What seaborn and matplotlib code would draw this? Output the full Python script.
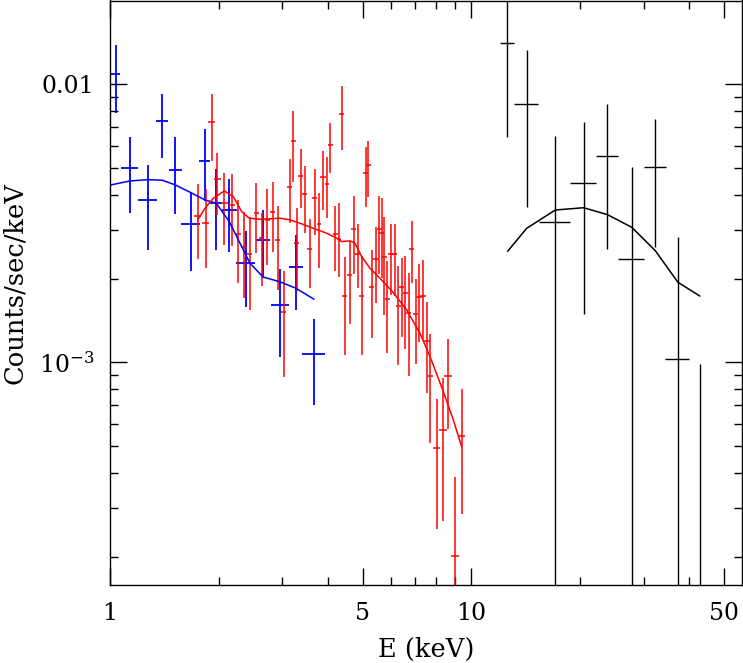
import numpy as np
import pandas as pd
import matplotlib
matplotlib.use("Agg")
import matplotlib.pyplot as plt
import seaborn as sns
from matplotlib.ticker import FixedLocator, FixedFormatter, NullFormatter

# ---------------- data (rates in units of 1e-3 counts/sec/keV) ----------------
blue_e = [1.037, 1.134, 1.271, 1.395, 1.516, 1.673, 1.828, 1.968, 2.138, 2.374, 2.651, 2.960, 3.271, 3.668]
blue_de = [0.030, 0.064, 0.075, 0.056, 0.063, 0.098, 0.062, 0.079, 0.102, 0.144, 0.123, 0.170, 0.142, 0.269]
blue_rate = [10.87, 4.985, 3.836, 7.361, 4.929, 3.144, 5.311, 3.750, 3.522, 2.276, 2.754, 1.607, 2.207, 1.069]
blue_lo = [7.86, 3.45, 2.535, 5.445, 3.423, 2.13, 3.815, 2.541, 2.487, 1.585, 2.005, 1.042, 1.542, 0.702]
blue_hi = [13.85, 6.45, 5.124, 9.228, 6.45, 4.11, 6.925, 4.968, 4.563, 2.967, 3.53, 2.16, 2.857, 1.428]

blue_model_e = [1.006, 1.136, 1.276, 1.395, 1.516, 1.673, 1.828, 1.968, 2.138, 2.44, 2.651, 2.96, 3.271, 3.668]
blue_model = [4.342, 4.488, 4.536, 4.514, 4.342, 4.074, 3.836, 3.732, 3.204, 2.27, 2.026, 1.944, 1.845, 1.685]

red_e = [1.748, 1.839, 1.915, 1.982, 2.072, 2.171, 2.261, 2.354, 2.440, 2.541, 2.628, 2.725, 2.819, 2.910,
         3.023, 3.148, 3.216, 3.285, 3.370, 3.464, 3.576, 3.692, 3.788, 3.886, 3.986, 4.072, 4.195, 4.303,
         4.375, 4.460, 4.605, 4.723, 4.845, 4.981, 5.098, 5.186, 5.297, 5.445, 5.562, 5.646, 5.742, 5.853,
         5.991, 6.146, 6.278, 6.427, 6.565, 6.706, 6.836, 7.013, 7.178, 7.333, 7.521, 7.699, 8.016, 8.346,
         8.635, 9.010, 9.399]
red_de = [0.039, 0.041, 0.043, 0.044, 0.046, 0.048, 0.036, 0.037, 0.039, 0.040, 0.042, 0.043, 0.045, 0.046,
          0.048, 0.050, 0.051, 0.052, 0.054, 0.055, 0.057, 0.059, 0.060, 0.062, 0.063, 0.065, 0.067, 0.068,
          0.070, 0.071, 0.073, 0.075, 0.077, 0.079, 0.081, 0.082, 0.084, 0.087, 0.088, 0.090, 0.091, 0.093,
          0.095, 0.098, 0.100, 0.102, 0.104, 0.107, 0.109, 0.112, 0.137, 0.140, 0.144, 0.147, 0.194, 0.202,
          0.209, 0.218, 0.227]
red_rate = [3.361, 3.179, 7.297, 4.552, 3.731, 3.690, 2.886, 2.605, 2.446, 3.453, 2.807, 3.250, 3.472, 2.746,
            1.513, 4.284, 6.252, 2.694, 4.691, 4.020, 2.562, 3.910, 3.135, 4.652, 4.367, 6.049, 2.886, 2.784,
            7.820, 1.727, 2.061, 3.017, 2.453, 1.727, 4.783, 5.111, 1.871, 2.353, 3.017, 2.926, 2.399, 1.694,
            2.453, 2.446, 1.599, 1.871, 1.770, 1.501, 2.549, 1.489, 1.718, 1.732, 1.189, 0.890, 0.493, 0.5706,
            0.893, 0.2015, 0.543]
red_lo = [2.353, 2.178, 5.313, 3.388, 2.642, 2.620, 1.923, 1.708, 1.542, 2.480, 1.881, 2.239, 2.500, 1.820,
          0.887, 3.179, 4.465, 1.805, 3.579, 2.910, 1.855, 2.870, 2.178, 3.530, 3.295, 4.809, 2.130, 2.021,
          5.803, 1.062, 1.369, 2.072, 1.846, 1.062, 3.629, 3.943, 1.219, 1.630, 2.072, 2.004, 1.479, 1.077,
          1.746, 1.732, 0.978, 1.236, 1.114, 0.893, 1.923, 0.983, 1.186, 1.202, 0.7735, 0.514, 0.2507, 0.2694,
          0.574, 0.12, 0.2838]
red_hi = [4.367, 4.190, 9.228, 5.676, 4.809, 4.743, 3.835, 3.482, 3.341, 4.428, 3.435, 4.202, 4.465, 3.649,
          2.130, 5.370, 8.017, 3.599, 5.836, 5.083, 3.268, 4.944, 4.076, 5.755, 5.461, 7.278, 3.649, 3.731,
          9.860, 2.386, 2.731, 3.964, 3.144, 2.412, 5.933, 6.270, 2.535, 3.075, 3.964, 3.889, 3.341, 2.314,
          3.144, 3.144, 2.220, 2.366, 2.419, 2.089, 3.232, 1.993, 2.251, 2.333, 1.653, 1.261, 0.7359, 0.876,
          1.209, 0.3878, 0.8017]

red_model_e = [1.748, 1.832, 1.932, 2.072, 2.194, 2.314, 2.429, 2.601, 2.954, 3.148, 3.356, 3.652, 3.977, 4.239,
               4.375, 4.615, 4.764, 4.970, 5.241, 5.586, 6.081, 6.622, 7.208, 7.683, 8.363, 8.913, 9.399]
red_model = [3.250, 3.579, 3.889, 4.132, 3.943, 3.482, 3.295, 3.268, 3.295, 3.250, 3.161, 3.033, 2.910, 2.792,
             2.716, 2.731, 2.680, 2.399, 2.178, 2.004, 1.780, 1.542, 1.271, 1.048, 0.7843, 0.6199, 0.4971]

black_e = [12.57, 14.22, 17.07, 20.45, 23.78, 27.77, 32.28, 37.29, 42.9]
black_de = [0.58, 1.09, 1.66, 1.69, 1.67, 2.25, 2.30, 2.85, 3.0]
black_rate = [14.05, 8.514, 3.196, 4.419, 5.532, 2.350, 5.044, 1.028, 0.01]
black_lo = [6.461, 3.628, 0.01, 1.485, 2.545, 0.01, 2.603, 0.01, 0.005]
black_hi = [30.0, 13.3, 6.521, 7.337, 8.487, 5.031, 7.477, 2.816, 0.989]

black_model_e = [12.60, 14.22, 17.07, 20.45, 23.78, 27.77, 32.28, 37.29, 42.9]
black_model = [2.505, 3.030, 3.527, 3.595, 3.396, 3.059, 2.520, 1.939, 1.729]

UNIT = 1e-3

# ---------------- style ----------------
sns.set_theme(style="white")
plt.rcParams["font.family"] = ["DejaVu Serif"]
plt.rcParams["mathtext.fontset"] = "dejavuserif"

fig = plt.figure(figsize=(7.43, 6.63), dpi=100)
ax = fig.add_axes([110 / 743, (663 - 585) / 663, 632 / 743, 584.5 / 663])
ax.set_xscale("log")
ax.set_yscale("log")


def draw_errors(e, de, rate, lo, hi, color, lw):
    r = np.array(rate) * UNIT
    l = np.array(lo) * UNIT
    h = np.array(hi) * UNIT
    ax.errorbar(e, r, xerr=de, yerr=[r - l, h - r], fmt="none", ecolor=color,
                elinewidth=lw, capsize=0, zorder=2)


draw_errors(blue_e, blue_de, blue_rate, blue_lo, blue_hi, "#0000ff", 1.3)
draw_errors(red_e, red_de, red_rate, red_lo, red_hi, "#ff0000", 1.1)
draw_errors(black_e, black_de, black_rate, black_lo, black_hi, "#000000", 1.0)

models = pd.concat([
    pd.DataFrame({"E": blue_model_e, "rate": np.array(blue_model) * UNIT, "set": "b"}),
    pd.DataFrame({"E": red_model_e, "rate": np.array(red_model) * UNIT, "set": "r"}),
    pd.DataFrame({"E": black_model_e, "rate": np.array(black_model) * UNIT, "set": "k"}),
])
sns.lineplot(data=models, x="E", y="rate", hue="set", units="set", estimator=None, sort=False,
             palette={"b": "#0000ff", "r": "#ff0000", "k": "#000000"}, linewidth=1.1,
             legend=False, ax=ax, zorder=3)

ax.set_xlim(1, 56.1)
ax.set_ylim(1.58e-4, 0.02)

# ticks
ax.xaxis.set_major_locator(FixedLocator([1, 5, 10, 50]))
ax.xaxis.set_major_formatter(FixedFormatter(["1", "5", "10", "50"]))
ax.xaxis.set_minor_locator(FixedLocator([2, 3, 4, 6, 7, 8, 9, 20, 30, 40]))
ax.xaxis.set_minor_formatter(NullFormatter())
ax.yaxis.set_major_locator(FixedLocator([1e-3, 1e-2]))
ax.yaxis.set_major_formatter(FixedFormatter([r"$10^{-3}$", "0.01"]))
ax.yaxis.set_minor_locator(FixedLocator([k * 1e-4 for k in range(2, 10)] + [k * 1e-3 for k in range(2, 10)]))
ax.yaxis.set_minor_formatter(NullFormatter())

ax.tick_params(which="both", direction="in", top=True, right=True, bottom=True, left=True,
               color="black", width=1.0, labelsize=17, labelcolor="black")
ax.tick_params(which="major", length=12)
ax.tick_params(which="minor", length=6)
ax.tick_params(axis="x", which="major", pad=12)
ax.tick_params(axis="y", which="major", pad=11)

for s in ax.spines.values():
    s.set_color("black")
    s.set_linewidth(1.0)

ax.set_xlabel("E (keV)", fontsize=18.5, color="black")
ax.set_ylabel("Counts/sec/keV", fontsize=18.5, color="black")
ax.xaxis.set_label_coords(0.5, -0.088)
ax.yaxis.set_label_coords(-0.132, 0.517)

fig.savefig("out.png", dpi=100, facecolor="white")
